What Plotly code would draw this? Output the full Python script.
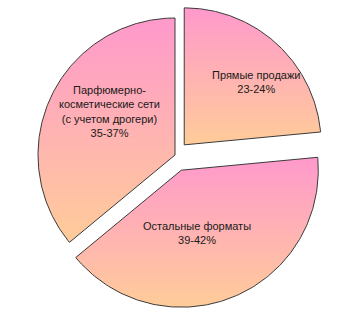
import numpy as np
import plotly.graph_objects as go

# ---- data ----
categories = ["Прямые продажи", "Остальные форматы",
              "Парфюмерно-косметические сети (с учетом дрогери)"]
label_texts = ["Прямые продажи<br>23-24%",
               "Остальные форматы<br>39-42%",
               "Парфюмерно-<br>косметические сети<br>(с учетом дрогери)<br>35-37%"]
values = [23.5, 40.5, 36.0]

# ---- style ----
W, H = 351, 321
R_PX = 137.0           # radius in pixels
CX, CY = 175.0, 155.0  # pie centre in pixels
pulls = [0.10, 0.12, 0.0]
label_angle = [41.0, -75.5, 146.5]   # degrees, from slice apex
label_r = [0.70, 0.47, 0.57]
grad = [[0, "#FFCC99"], [1, "#FF99CC"]]

fig = go.Figure()
total = float(sum(values))
start = 90.0
cum = 0.0
for i, v in enumerate(values):
    t0 = start - cum / total * 360.0
    t1 = t0 - v / total * 360.0
    cum += v
    b = np.radians((t0 + t1) / 2)
    ax, ay = pulls[i] * np.cos(b), pulls[i] * np.sin(b)
    th = np.radians(np.linspace(t0, t1, 160))
    xs = np.concatenate([[ax], ax + np.cos(th), [ax]])
    ys = np.concatenate([[ay], ay + np.sin(th), [ay]])
    fig.add_trace(go.Scatter(
        x=xs, y=ys, mode="lines", fill="toself",
        fillgradient=dict(type="vertical", colorscale=grad),
        line=dict(color="#3a3a3a", width=1),
        name=categories[i], hoverinfo="name", showlegend=False))
    la = np.radians(label_angle[i])
    fig.add_annotation(
        x=ax + label_r[i] * np.cos(la), y=ay + label_r[i] * np.sin(la),
        text=label_texts[i], showarrow=False, align="center",
        xanchor="center", yanchor="middle",
        font=dict(family="Liberation Sans, Arial, sans-serif", size=11,
                  color="#1a1a1a"))

fig.update_xaxes(range=[-CX / R_PX, (W - CX) / R_PX], visible=False,
                 fixedrange=True)
fig.update_yaxes(range=[-(H - CY) / R_PX, CY / R_PX], visible=False,
                 fixedrange=True)
fig.update_layout(width=W, height=H, margin=dict(l=0, r=0, t=0, b=0),
                  paper_bgcolor="white", plot_bgcolor="white",
                  showlegend=False)
fig.write_html("out.html")
